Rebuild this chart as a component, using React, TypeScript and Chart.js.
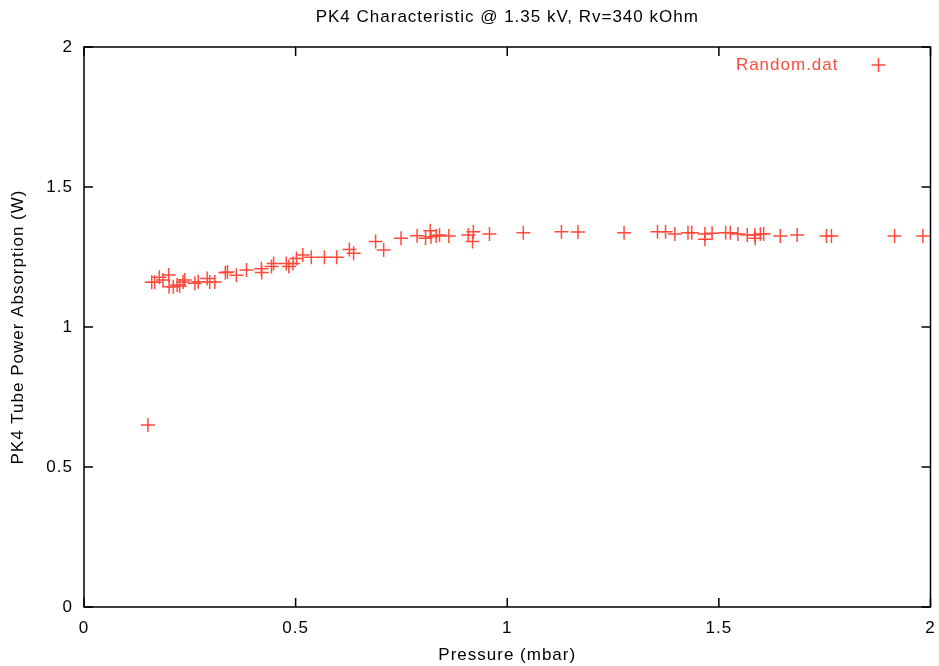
import React, { useEffect, useRef } from "react";
import { Chart, registerables } from "chart.js";
Chart.register(...registerables);

const titleText = "PK4 Characteristic @ 1.35 kV, Rv=340 kOhm";
const xLabel = "Pressure (mbar)";
const yLabel = "PK4 Tube Power Absorption (W)";
const seriesName = "Random.dat";
const xTicks = [0, 0.5, 1, 1.5, 2];
const yTicks = [0, 0.5, 1, 1.5, 2];

const pressure = [
  0.151, 0.16, 0.167, 0.178, 0.187, 0.2, 0.201, 0.211, 0.22, 0.226, 0.234, 0.238,
  0.262, 0.27, 0.291, 0.297, 0.309, 0.334, 0.339, 0.36, 0.384, 0.419, 0.42, 0.443,
  0.448, 0.478, 0.484, 0.494, 0.502, 0.517, 0.537, 0.568, 0.597, 0.627, 0.637, 0.689,
  0.708, 0.749, 0.787, 0.807, 0.818, 0.82, 0.832, 0.84, 0.862, 0.908, 0.92, 0.918,
  0.958, 1.038, 1.128, 1.167, 1.276, 1.355, 1.374, 1.396, 1.427, 1.436, 1.467, 1.467,
  1.484, 1.516, 1.527, 1.545, 1.567, 1.585, 1.586, 1.598, 1.606, 1.645, 1.685, 1.754,
  1.766, 1.915, 1.982,
];
const power = [
  0.65, 1.16, 1.16, 1.178, 1.168, 1.186, 1.144, 1.144, 1.15, 1.146, 1.161, 1.168,
  1.156, 1.162, 1.173, 1.161, 1.161, 1.194, 1.196, 1.185, 1.204, 1.208, 1.195, 1.216,
  1.227, 1.227, 1.216, 1.227, 1.245, 1.257, 1.249, 1.249, 1.249, 1.277, 1.263, 1.305,
  1.275, 1.317, 1.326, 1.317, 1.344, 1.322, 1.325, 1.329, 1.325, 1.329, 1.34, 1.305,
  1.332, 1.337, 1.34, 1.339, 1.337, 1.34, 1.34, 1.332, 1.337, 1.337, 1.332, 1.313,
  1.335, 1.337, 1.337, 1.332, 1.329, 1.329, 1.317, 1.332, 1.332, 1.325, 1.329, 1.325,
  1.325, 1.325, 1.325,
];

const RED = "#ff4a3c";
const FONT = "'Liberation Sans', Arial, Helvetica, sans-serif";
const SIZE = 17;
const SPACING = "1px";

const framePlugin = {
  id: "frame",
  beforeDraw(chart: any) {
    (chart.ctx as any).letterSpacing = SPACING;
  },
  beforeDatasetsDraw(chart: any) {
    const { ctx, chartArea: a, scales } = chart;
    ctx.save();
    ctx.strokeStyle = "#000";
    ctx.lineWidth = 1.5;
    ctx.strokeRect(a.left, a.top, a.right - a.left, a.bottom - a.top);
    const tl = 9;
    ctx.beginPath();
    for (const v of xTicks) {
      const x = scales.x.getPixelForValue(v);
      ctx.moveTo(x, a.bottom);
      ctx.lineTo(x, a.bottom - tl);
      ctx.moveTo(x, a.top);
      ctx.lineTo(x, a.top + tl);
    }
    for (const v of yTicks) {
      const y = scales.y.getPixelForValue(v);
      ctx.moveTo(a.left, y);
      ctx.lineTo(a.left + tl, y);
      ctx.moveTo(a.right, y);
      ctx.lineTo(a.right - tl, y);
    }
    ctx.stroke();
    ctx.restore();
  },
  afterDraw(chart: any) {
    const { ctx, chartArea: a } = chart;
    ctx.save();
    (ctx as any).letterSpacing = SPACING;
    const y = a.top + 18;
    const cx = a.right - 52;
    ctx.fillStyle = RED;
    ctx.font = `${SIZE}px ${FONT}`;
    ctx.textAlign = "right";
    ctx.textBaseline = "middle";
    ctx.fillText(seriesName, cx - 40, y);
    ctx.strokeStyle = RED;
    ctx.lineWidth = 1.5;
    ctx.beginPath();
    ctx.moveTo(cx - 7, y);
    ctx.lineTo(cx + 7, y);
    ctx.moveTo(cx, y - 7);
    ctx.lineTo(cx, y + 7);
    ctx.stroke();
    ctx.restore();
  },
};

export default function App() {
  const ref = useRef<HTMLCanvasElement>(null);
  useEffect(() => {
    document.body.style.margin = "0";
    const chart = new Chart(ref.current!, {
      type: "scatter",
      data: {
        datasets: [
          {
            label: seriesName,
            data: pressure.map((x, i) => ({ x, y: power[i] })),
            pointStyle: "cross",
            pointRadius: 7,
            pointBorderWidth: 1.5,
            borderColor: RED,
            backgroundColor: RED,
          },
        ],
      },
      options: {
        animation: false,
        responsive: false,
        layout: { padding: { left: 0, right: 7, top: 0, bottom: 0 } },
        plugins: {
          legend: { display: false },
          tooltip: { enabled: false },
          title: {
            display: true,
            fullSize: false,
            text: titleText,
            color: "#000",
            font: { family: FONT, size: SIZE, weight: "normal" },
            padding: { top: 7, bottom: 19.6 },
          },
        },
        scales: {
          x: {
            type: "linear",
            min: 0,
            max: 2,
            afterBuildTicks: (s: any) => {
              s.ticks = xTicks.map((value) => ({ value }));
            },
            afterFit: (s: any) => {
              s.height = 59;
              s.paddingLeft = 0;
              s.paddingRight = 0;
            },
            grid: { display: false, drawTicks: false },
            border: { display: false },
            ticks: {
              color: "#000",
              padding: 11,
              font: { family: FONT, size: SIZE },
              maxRotation: 0,
              callback: (v: any) => String(v),
            },
            title: {
              display: true,
              text: xLabel,
              color: "#000",
              font: { family: FONT, size: SIZE },
              padding: { top: 0, bottom: 0.8 },
            },
          },
          y: {
            type: "linear",
            min: 0,
            max: 2,
            afterBuildTicks: (s: any) => {
              s.ticks = yTicks.map((value) => ({ value }));
            },
            afterFit: (s: any) => {
              s.width = 84;
              s.paddingTop = 0;
              s.paddingBottom = 0;
            },
            grid: { display: false, drawTicks: false },
            border: { display: false },
            ticks: {
              color: "#000",
              padding: 11,
              font: { family: FONT, size: SIZE },
              callback: (v: any) => String(v),
            },
            title: {
              display: true,
              text: yLabel,
              color: "#000",
              font: { family: FONT, size: SIZE },
              padding: { top: 8.3, bottom: 0 },
            },
          },
        },
      },
      plugins: [framePlugin],
    });
    return () => chart.destroy();
  }, []);
  return <canvas ref={ref} width={939} height={666} style={{ display: "block" }} />;
}
